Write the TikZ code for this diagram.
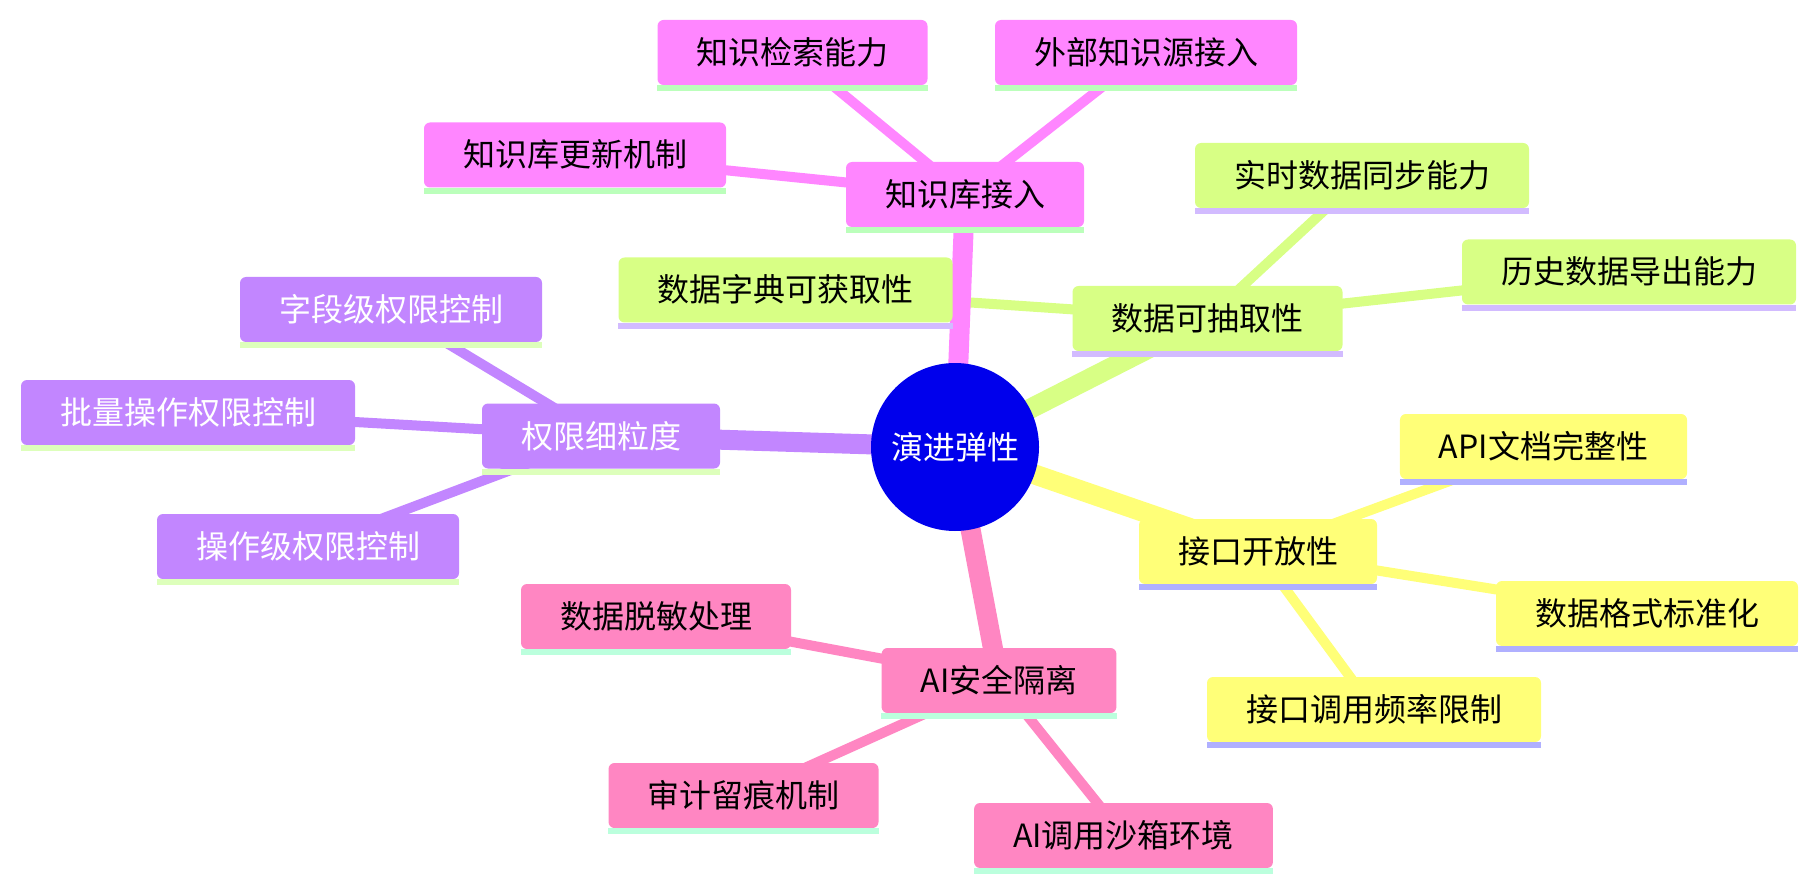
\documentclass[tikz,border=0pt]{standalone}
\usepackage{fontspec}
\setmainfont{Noto Sans CJK SC}
\usetikzlibrary{backgrounds}
\definecolor{rootc}{HTML}{0000EC}
\definecolor{kbc}{HTML}{FF86FF}
\definecolor{kbl}{HTML}{BBFFBB}
\definecolor{dec}{HTML}{D8FF85}
\definecolor{del}{HTML}{D2BBFF}
\definecolor{ioc}{HTML}{FFFF78}
\definecolor{iol}{HTML}{B0B0FF}
\definecolor{aic}{HTML}{FF86C2}
\definecolor{ail}{HTML}{BBFFDD}
\definecolor{pmc}{HTML}{C286FF}
\definecolor{pml}{HTML}{DDFFBB}
\begin{document}
\begin{tikzpicture}[x=1pt,y=-1pt,
  box/.style={rectangle, rounded corners=6pt, inner xsep=39pt, inner ysep=0pt,
    minimum height=65pt, font=\fontsize{32}{38}\selectfont,
    text height=28pt, text depth=4pt},
  rootnode/.style={circle, fill=rootc, text=white, minimum size=168pt, inner sep=0pt,
    font=\fontsize{32}{38}\selectfont, text height=28pt, text depth=4pt},
  kbbox/.style={box, fill=kbc, text=black},
  debox/.style={box, fill=dec, text=black},
  iobox/.style={box, fill=ioc, text=black},
  aibox/.style={box, fill=aic, text=black},
  pmbox/.style={box, fill=pmc, text=white},
  mainedge/.style={line width=20pt},
  subedge/.style={line width=10pt}]
\useasboundingbox (0,0) rectangle (1819,890);

\node[rootnode] (root) at (955,447) {演进弹性};

\node[kbbox] (kb)  at (965,194.5) {知识库接入};
\node[kbbox] (kb1) at (792.5,52.5) {知识检索能力};
\node[kbbox] (kb2) at (1146,52.5) {外部知识源接入};
\node[kbbox] (kb3) at (575,155) {知识库更新机制};

\node[debox] (de)  at (1207.5,318.5) {数据可抽取性};
\node[debox] (de1) at (1362,175.5) {实时数据同步能力};
\node[debox] (de2) at (1629,272) {历史数据导出能力};
\node[debox] (de3) at (785.5,290) {数据字典可获取性};

\node[iobox] (io)  at (1258,551.5) {接口开放性};
\node[iobox] (io1) at (1543.5,446.5) {API文档完整性};
\node[iobox] (io2) at (1647,613.5) {数据格式标准化};
\node[iobox] (io3) at (1374,709.5) {接口调用频率限制};

\node[aibox] (ai)  at (999,680.5) {AI安全隔离};
\node[aibox] (ai1) at (656,616.5) {数据脱敏处理};
\node[aibox] (ai2) at (743.5,795.5) {审计留痕机制};
\node[aibox] (ai3) at (1123.5,835.5) {AI调用沙箱环境};

\node[pmbox] (pm)  at (601,436) {权限细粒度};
\node[pmbox] (pm1) at (391,309.5) {字段级权限控制};
\node[pmbox] (pm2) at (188,412.5) {批量操作权限控制};
\node[pmbox] (pm3) at (308,546.5) {操作级权限控制};

\foreach \n/\c in {kb/kbl,kb1/kbl,kb2/kbl,kb3/kbl,
                   de/del,de1/del,de2/del,de3/del,
                   io/iol,io1/iol,io2/iol,io3/iol,
                   ai/ail,ai1/ail,ai2/ail,ai3/ail,
                   pm/pml,pm1/pml,pm2/pml,pm3/pml}
  \fill[\c] (\n.south west) rectangle ([yshift=-6pt]\n.south east);

\begin{scope}[on background layer]
  \foreach \p/\c/\col in {kb/kb1/kbc,kb/kb2/kbc,kb/kb3/kbc,
                          de/de1/dec,de/de2/dec,de/de3/dec,
                          io/io1/ioc,io/io2/ioc,io/io3/ioc,
                          ai/ai1/aic,ai/ai2/aic,ai/ai3/aic,
                          pm/pm1/pmc,pm/pm2/pmc,pm/pm3/pmc}
    \draw[subedge, draw=\col] (\p.center) -- (\c.center);
  \foreach \c/\col in {kb/kbc,de/dec,io/ioc,ai/aic,pm/pmc}
    \draw[mainedge, draw=\col] (root.center) -- (\c.center);
\end{scope}
\end{tikzpicture}
\end{document}
